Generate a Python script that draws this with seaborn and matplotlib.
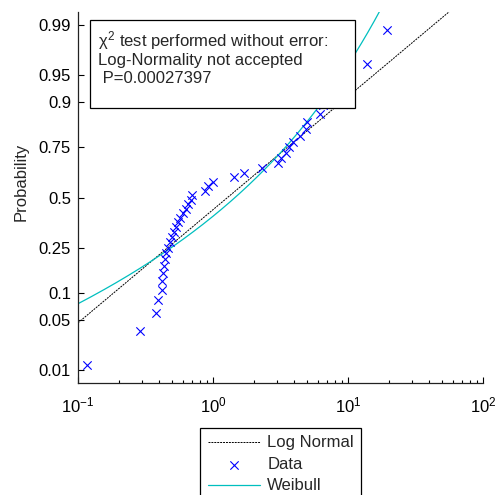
import numpy as np
import pandas as pd
import matplotlib
matplotlib.use("Agg")
import matplotlib.pyplot as plt
from matplotlib.patches import Rectangle
from matplotlib.ticker import NullLocator, FixedLocator, FixedFormatter
import seaborn as sns
from statistics import NormalDist

# Sorted sample values (x) and their plotting-position probabilities (y)
sample_values = [0.117, 0.288, 0.379, 0.392, 0.417, 0.419, 0.426, 0.436, 0.441, 0.449,
                 0.462, 0.480, 0.494, 0.514, 0.532, 0.553, 0.573, 0.603, 0.628, 0.656,
                 0.684, 0.699, 0.873, 0.923, 1.005, 1.43, 1.70, 2.31, 3.03, 3.19,
                 3.47, 3.66, 3.92, 4.41, 4.89, 4.97, 6.21, 6.53, 7.61, 9.50, 13.8, 19.4]
sample_probs = [0.012, 0.036, 0.060, 0.083, 0.107, 0.131, 0.155, 0.179, 0.202, 0.226,
                0.250, 0.274, 0.298, 0.321, 0.345, 0.369, 0.393, 0.417, 0.440, 0.464,
                0.488, 0.512, 0.536, 0.560, 0.583, 0.607, 0.631, 0.655, 0.679, 0.702,
                0.726, 0.750, 0.774, 0.798, 0.821, 0.845, 0.869, 0.893, 0.917, 0.940,
                0.964, 0.988]

# Fitted distribution parameters
lognorm_mu = 0.248
lognorm_sigma = 1.51
weibull_scale = 2.29
weibull_shape = 0.81

prob_ticks = [0.01, 0.05, 0.1, 0.25, 0.5, 0.75, 0.9, 0.95, 0.99]
prob_tick_labels = ["0.01", "0.05", "0.1", "0.25", "0.5", "0.75", "0.9", "0.95", "0.99"]
x_ticks = [0.1, 1, 10, 100]
x_tick_labels = [r"$10^{-1}$", r"$10^{0}$", r"$10^{1}$", r"$10^{2}$"]

annotation_lines = [r"$\chi^2$ test performed without error:",
                    "Log-Normality not accepted",
                    " P=0.00027397"]

sns.set_style("white")
plt.rcParams["font.family"] = ["Liberation Sans", "DejaVu Sans"]
plt.rcParams["mathtext.fontset"] = "custom"
plt.rcParams["mathtext.rm"] = "Liberation Sans"
plt.rcParams["mathtext.it"] = "Liberation Sans"
plt.rcParams["mathtext.bf"] = "Liberation Sans:bold"

FS = 12

_nd = NormalDist()


def prob_to_z(p):
    p = np.clip(np.asarray(p, dtype=float), 1e-12, 1 - 1e-12)
    if p.size == 0:
        return p
    return np.vectorize(_nd.inv_cdf, otypes=[float])(p)


def z_to_prob(z):
    z = np.asarray(z, dtype=float)
    if z.size == 0:
        return z
    return np.vectorize(_nd.cdf, otypes=[float])(z)


# Fitted CDF curves over the plotted range
grid = np.logspace(-1, 2, 500)
lognorm_cdf = z_to_prob((np.log(grid) - lognorm_mu) / lognorm_sigma)
weibull_cdf = 1.0 - np.exp(-(grid / weibull_scale) ** weibull_shape)

curves = pd.DataFrame({"x": grid, "lognormal": lognorm_cdf, "weibull": weibull_cdf})
data = pd.DataFrame({"x": sample_values, "p": sample_probs})

fig = plt.figure(figsize=(4.97, 4.95), dpi=100)
ax = fig.add_axes([78 / 497, 1 - 383 / 495, 405 / 497, 371 / 495])

ax.set_xscale("log")
ax.set_yscale("function", functions=(prob_to_z, z_to_prob))

sns.lineplot(data=curves, x="x", y="lognormal", ax=ax, color="black",
             linewidth=0.7, linestyle=(0, (2, 1)), label="Log Normal",
             estimator=None, sort=False)
sns.scatterplot(data=data, x="x", y="p", ax=ax, marker="x", color="blue",
                s=36, linewidth=0.8, label="Data", zorder=3)
sns.lineplot(data=curves, x="x", y="weibull", ax=ax, color="#00BFBF",
             linewidth=0.9, label="Weibull", estimator=None, sort=False)

ax.set_xlim(0.1, 100)
ax.set_ylim(_nd.cdf(-2.5), _nd.cdf(2.5))

ax.yaxis.set_major_locator(FixedLocator(prob_ticks))
ax.yaxis.set_major_formatter(FixedFormatter(prob_tick_labels))
ax.yaxis.set_minor_locator(NullLocator())
ax.xaxis.set_major_locator(FixedLocator(x_ticks))
ax.xaxis.set_major_formatter(FixedFormatter(x_tick_labels))

ax.tick_params(axis="both", which="both", bottom=True, left=True,
               top=False, right=False)
ax.tick_params(axis="both", which="major", direction="in", length=4,
               width=0.8, labelsize=FS, colors="black")
ax.tick_params(axis="y", which="major", pad=5)
ax.tick_params(axis="x", which="major", pad=9)
ax.tick_params(axis="x", which="minor", direction="in", length=2.5, width=0.8,
               colors="black")

for side in ("top", "right"):
    ax.spines[side].set_visible(False)
for side in ("left", "bottom"):
    ax.spines[side].set_color("#222222")
    ax.spines[side].set_linewidth(0.9)

ax.set_xlabel("")
ax.set_ylabel("Probability", fontsize=FS)
ax.yaxis.set_label_coords(-0.122, 0.543)

# Annotation box with the test result
ax.add_patch(Rectangle((0.0296, 0.741), 0.654, 0.237, transform=ax.transAxes,
                       facecolor="white", edgecolor="black", linewidth=0.9,
                       zorder=5, clip_on=False))
for text, ypos in zip(annotation_lines, [0.906, 0.857, 0.809]):
    ax.text(0.049, ypos, text, transform=ax.transAxes, fontsize=FS,
            va="baseline", ha="left", zorder=6)

handles, labels = ax.get_legend_handles_labels()
ax.get_legend().remove()
leg = fig.legend(handles, labels, loc="upper left",
                 bbox_to_anchor=(200 / 497, 1 - 428 / 495),
                 frameon=True, fancybox=False, edgecolor="black", framealpha=1,
                 fontsize=FS, handlelength=3.17, borderpad=0.45,
                 labelspacing=0.39, handletextpad=0.42, borderaxespad=0)
leg.get_frame().set_linewidth(0.9)

fig.savefig("out.png", dpi=100)
